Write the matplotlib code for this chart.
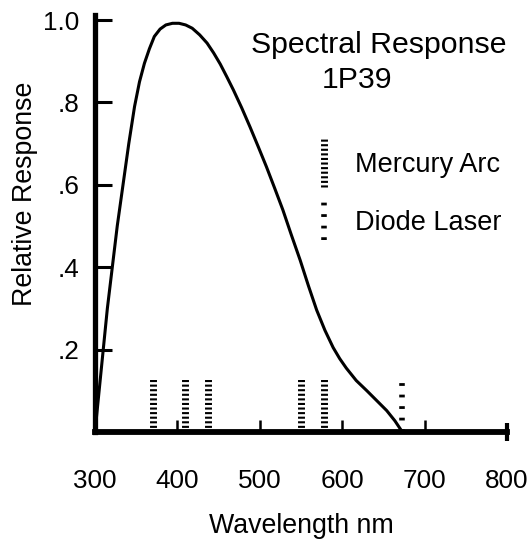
import matplotlib
matplotlib.use("Agg")
import matplotlib.pyplot as plt
from matplotlib.legend_handler import HandlerBase
from matplotlib.lines import Line2D

# response curve of the 1P39 tube
wavelength = [300, 305, 310, 315, 321, 327, 334, 341, 348, 354, 360, 366, 372,
              379, 386, 394, 402, 410, 418, 427, 436, 444, 452, 460, 468, 478,
              488, 498, 508, 518, 528, 538, 549, 559, 569, 579, 589, 597, 605,
              617, 630, 642, 654, 664, 673]
response = [0.0, 0.10, 0.20, 0.30, 0.40, 0.50, 0.60, 0.70, 0.79, 0.85, 0.895,
            0.93, 0.96, 0.978, 0.988, 0.992, 0.992, 0.988, 0.980, 0.964, 0.944,
            0.920, 0.893, 0.862, 0.830, 0.787, 0.741, 0.693, 0.644, 0.592, 0.539,
            0.480, 0.417, 0.355, 0.296, 0.247, 0.205, 0.178, 0.155, 0.125, 0.100,
            0.076, 0.052, 0.027, 0.0]

mercury_nm = [370, 409, 437, 550, 578]
mercury_height = [0.13, 0.13, 0.13, 0.13, 0.13]
diode_nm = [673]
diode_height = [0.118]

x_ticks = [300, 400, 500, 600, 700, 800]
y_ticks = [0.2, 0.4, 0.6, 0.8, 1.0]
y_tick_labels = [".2", ".4", ".6", ".8", "1.0"]

plt.rcParams["font.family"] = ["Liberation Sans", "DejaVu Sans"]
plt.rcParams["lines.scale_dashes"] = False

mercury_style = dict(color="black", linewidth=5, linestyle=(0, (1.5, 1.8)))
diode_style = dict(color="black", linewidth=4, linestyle=(0, (2.0, 6.3)))


class VerticalKey(HandlerBase):
    # legend key drawn as a short vertical dashed bar
    def __init__(self, length):
        super().__init__()
        self.length = length

    def create_artists(self, legend, orig_handle, xdescent, ydescent,
                       width, height, fontsize, trans):
        xc = width / 2 - xdescent
        yc = height / 2 - ydescent
        line = Line2D([xc, xc], [yc - self.length / 2, yc + self.length / 2])
        self.update_prop(line, orig_handle, legend)
        line.set_transform(trans)
        return [line]


fig = plt.figure(figsize=(5.31, 5.41), dpi=100)
ax = fig.add_axes([95 / 531, 109 / 541, 412 / 531, 417 / 541])

ax.plot(wavelength, response, color="black", linewidth=2.2,
        solid_capstyle="round", solid_joinstyle="round")
ax.vlines(mercury_nm, 0, mercury_height, **mercury_style)
ax.vlines(diode_nm, 0, diode_height, **diode_style)

ax.set_xlim(300, 800)
ax.set_ylim(0, 417 / 412)
for side in ["top", "right"]:
    ax.spines[side].set_visible(False)
ax.spines["left"].set_linewidth(3.8)
ax.spines["bottom"].set_linewidth(4.2)

ax.set_xticks(x_ticks)
ax.set_yticks(y_ticks)
ax.set_yticklabels(y_tick_labels)
ax.tick_params(axis="x", direction="in", length=9, width=1.8, pad=27, labelsize=18.8)
ax.tick_params(axis="y", direction="in", length=12, width=2.2, pad=11.5, labelsize=18.8)
# the 800 tick closes the axis and pokes through it
last = ax.xaxis.get_major_ticks()[-1]
last.tick1line.set_marker("|")
last.tick1line.set_markersize(13)
last.tick1line.set_markeredgewidth(3)

ax.set_xlabel("Wavelength nm", fontsize=19.3, labelpad=14)
ax.set_ylabel("Relative Response", fontsize=19.3)
ax.yaxis.set_label_coords(-0.138, 0.57)

ax.text(0.689, 0.928, "Spectral Response", transform=ax.transAxes,
        ha="center", va="center", fontsize=21.8)
ax.text(0.637, 0.844, "1P39", transform=ax.transAxes,
        ha="center", va="center", fontsize=21.8)

mercury_key = Line2D([], [], **mercury_style)
diode_key = Line2D([], [], **diode_style)
ax.legend([mercury_key, diode_key], ["Mercury Arc", "Diode Laser"],
          handler_map={mercury_key: VerticalKey(36), diode_key: VerticalKey(28)},
          loc="upper left", bbox_to_anchor=(0.539, 0.672), frameon=False,
          borderpad=0, borderaxespad=0, handlelength=0.5, handletextpad=0.9,
          labelspacing=1.2, fontsize=19.5)

fig.savefig("out.png", dpi=100)
